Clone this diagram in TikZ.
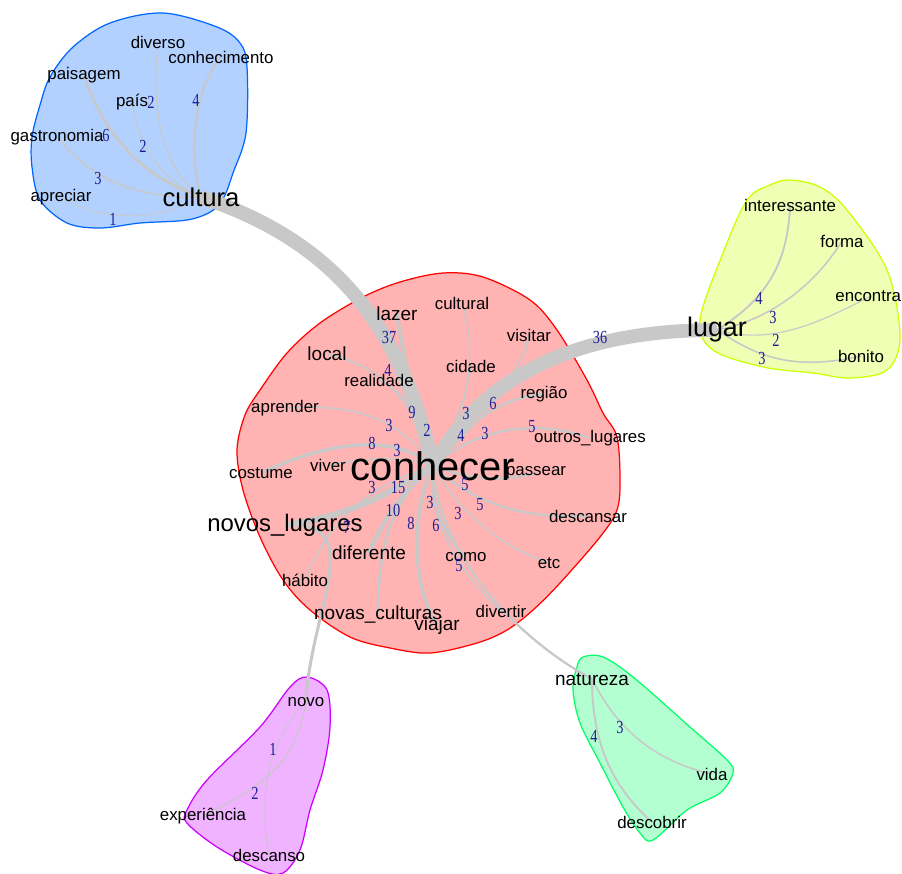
\documentclass[tikz,border=0pt]{standalone}
\usepackage{fontspec}
\setmainfont{Liberation Sans}
\newfontfamily\numfont{Liberation Serif}[FakeStretch=0.78]
\definecolor{linkgray}{RGB}{200,200,200}
\definecolor{numblue}{RGB}{30,30,150}
\definecolor{hred}{RGB}{255,0,0}
\definecolor{hredf}{RGB}{255,179,179}
\definecolor{hyel}{RGB}{204,255,0}
\definecolor{hyelf}{RGB}{240,255,179}
\definecolor{hgrn}{RGB}{0,255,102}
\definecolor{hgrnf}{RGB}{179,255,209}
\definecolor{hblu}{RGB}{0,102,255}
\definecolor{hbluf}{RGB}{179,209,255}
\definecolor{hmag}{RGB}{204,0,255}
\definecolor{hmagf}{RGB}{240,179,255}
\pgfdeclarelayer{back}
\pgfsetlayers{back,main}
\tikzset{
  word/.style={inner sep=0pt, font=\fontsize{9.6}{10}\selectfont},
  wordm/.style={inner sep=0pt, font=\fontsize{10.8}{11}\selectfont},
  wnum/.style={inner sep=0pt, text=numblue, font=\numfont\fontsize{10.5}{10}\selectfont},
  link/.style={draw=linkgray, line width=#1*0.21pt+0.25pt},
  hull/.style 2 args={draw=#1, fill=#2, line width=0.7pt}
}

\begin{document}
\begin{tikzpicture}[line cap=round,line join=round,x=0.02cm,y=-0.02cm]
\useasboundingbox (0,0) rectangle (902,873);
\clip (0,0) rectangle (902,873);
% centre
\node[word, font=\fontsize{22.7}{23}\selectfont] (conhecer) at (433,466) {conhecer};
\node[wordm] (lazer) at (397,314) {lazer};
\node[word] (cultural) at (462,303) {cultural};
\node[word] (visitar) at (529,335) {visitar};
\node[wordm] (local) at (327,354) {local};
\node[word] (cidade) at (471,366) {cidade};
\node[word] (realidade) at (379,380) {realidade};
\node[word] (regiao) at (544,394) {região};
\node[word] (aprender) at (285,408) {aprender};
\node[word] (outros) at (590,438) {outros\_lugares};
\node[word] (costume) at (261,473) {costume};
\node[word] (viver) at (328,465) {viver};
\node[word] (passear) at (536,473) {passear};
\node[word] (descansar) at (588,516) {descansar};
\node[word, font=\fontsize{13.6}{14}\selectfont] (novoslugares) at (285,525) {novos\_lugares};
\node[wordm] (diferente) at (369,553) {diferente};
\node[word] (como) at (466,557) {como};
\node[word] (etc) at (549,563) {etc};
\node[word] (habito) at (305,580) {hábito};
\node[wordm] (novasculturas) at (378,614) {novas\_culturas};
\node[wordm] (viajar) at (437,626) {viajar};
\node[word] (divertir) at (501,611) {divertir};
% cultura
\node[word, font=\fontsize{14.6}{15}\selectfont] (cultura) at (201,197) {cultura};
\node[word] (diverso) at (158,42) {diverso};
\node[word] (conhecimento) at (221,57) {conhecimento};
\node[word] (paisagem) at (84,75) {paisagem};
\node[word] (pais) at (132,102) {país};
\node[word] (gastronomia) at (57,137) {gastronomia};
\node[word] (apreciar) at (61,197) {apreciar};
% lugar
\node[word, font=\fontsize{15.3}{16}\selectfont] (lugar) at (717,330) {lugar};
\node[word] (interessante) at (790,205) {interessante};
\node[word] (forma) at (842,241) {forma};
\node[word] (encontrar) at (871,296) {encontrar};
\node[word] (bonito) at (861,356) {bonito};
% novo
\node[word] (novo) at (306,702) {novo};
\node[word] (experiencia) at (203,816) {experiência};
\node[word] (descanso) at (269,855) {descanso};
% natureza
\node[wordm] (natureza) at (592,679) {natureza};
\node[word] (vida) at (712,774) {vida};
\node[word] (descobrir) at (652,822) {descobrir};

\begin{pgfonlayer}{back}
\draw[hull={hblu}{hbluf}] plot[smooth cycle, tension=0.55] coordinates {(163,13) (217,27) (240,43) (247,67) (246,133) (233,173) (224,197) (212,211) (187,220) (140,223) (100,228) (67,223) (40,200) (32,167) (32,137) (40,105) (50,77) (73,47) (110,23)};
\draw[hull={hyel}{hyelf}] plot[smooth cycle, tension=0.55] coordinates {(790,180) (820,187) (847,210) (887,270) (900,337) (887,370) (850,378) (813,373) (763,367) (713,350) (700,320) (723,253) (747,200) (770,185)};
\draw[hull={hred}{hredf}] plot[smooth cycle, tension=0.55] coordinates {(443,273) (483,277) (530,300) (557,330) (587,380) (603,413) (617,437) (620,480) (617,510) (600,537) (560,583) (533,610) (507,630) (477,643) (430,653) (390,648) (350,637) (310,610) (283,580) (260,537) (243,490) (237,450) (245,415) (260,390) (287,353) (320,323) (363,297) (400,282)};
\draw[hull={hmag}{hmagf}] plot[smooth cycle, tension=0.55] coordinates {(307,677) (327,690) (330,727) (323,770) (310,810) (300,850) (283,873) (260,870) (217,847) (187,823) (187,810) (207,780) (260,727) (290,687)};
\draw[hull={hgrn}{hgrnf}] plot[smooth cycle, tension=0.55] coordinates {(583,657) (603,657) (633,677) (690,727) (727,760) (733,773) (720,793) (687,810) (653,840) (640,833) (623,807) (600,763) (580,723) (573,690) (577,667)};
% cultura
\draw[link=2] (diverso.center) .. controls (150,120) and (165,170) .. (cultura.center);
\draw[link=4] (conhecimento.center) .. controls (190,95) and (190,160) .. (cultura.center);
\draw[link=6] (paisagem.center) .. controls (100,125) and (135,175) .. (cultura.center);
\draw[link=2] (pais.center) .. controls (138,145) and (160,180) .. (cultura.center);
\draw[link=3] (gastronomia.center) .. controls (85,170) and (120,198) .. (cultura.center);
\draw[link=1] (apreciar.center) .. controls (100,222) and (160,222) .. (cultura.center);
% lugar
\draw[link=4] (interessante.center) .. controls (788,265) and (765,300) .. (lugar.center);
\draw[link=3] (forma.center) .. controls (815,285) and (770,320) .. (lugar.center);
\draw[link=2] (encontrar.center) .. controls (815,325) and (770,345) .. (lugar.center);
\draw[link=3] (bonito.center) .. controls (790,372) and (755,355) .. (lugar.center);
% conhecer
\draw[link=37] (cultura.center) .. controls (330,240) and (400,320) .. (conhecer.center);
\draw[link=36] (lugar.center) .. controls (570,330) and (480,380) .. (conhecer.center);
\draw[link=4] (local.center) .. controls (380,365) and (415,400) .. (conhecer.center);
\draw[link=9] (lazer.center) .. controls (405,370) and (420,420) .. (conhecer.center);
\draw[link=2] (realidade.center) .. controls (410,395) and (425,425) .. (conhecer.center);
\draw[link=3] (cultural.center) .. controls (480,360) and (465,420) .. (conhecer.center);
\draw[link=2] (cidade.center) .. controls (465,410) and (445,440) .. (conhecer.center);
\draw[link=4] (visitar.center) .. controls (522,375) and (480,420) .. (conhecer.center);
\draw[link=6] (regiao.center) .. controls (500,398) and (470,420) .. (conhecer.center);
\draw[link=5] (outros.center) .. controls (540,420) and (480,425) .. (conhecer.center);
\draw[link=3] (aprender.center) .. controls (360,403) and (400,420) .. (conhecer.center);
\draw[link=8] (costume.center) .. controls (320,445) and (390,430) .. (conhecer.center);
\draw[link=3] (viver.center) .. controls (370,458) and (400,455) .. (conhecer.center);
\draw[link=5] (passear.center) .. controls (490,485) and (460,475) .. (conhecer.center);
\draw[link=5] (descansar.center) .. controls (510,520) and (465,495) .. (conhecer.center);
\draw[link=3] (etc.center) .. controls (495,545) and (455,505) .. (conhecer.center);
\draw[link=6] (como.center) .. controls (440,530) and (430,500) .. (conhecer.center);
\draw[link=3] (divertir.center) .. controls (455,570) and (425,510) .. (conhecer.center);
\draw[link=5] (natureza.center) .. controls (520,640) and (440,560) .. (conhecer.center);
\draw[link=8] (viajar.center) .. controls (410,580) and (412,510) .. (conhecer.center);
\draw[link=10] (diferente.center) .. controls (385,515) and (405,490) .. (conhecer.center);
\draw[link=6] (novasculturas.center) .. controls (378,550) and (390,500) .. (conhecer.center);
\draw[link=15] (novoslugares.center) .. controls (360,515) and (400,485) .. (conhecer.center);
\draw[link=3] (habito.center) .. controls (325,530) and (360,487) .. (conhecer.center);
\draw[link=7] (novoslugares.center) .. controls (370,520) and (310,610) .. (novo.center);
% novo, natureza
\draw[link=2] (novo.center) .. controls (295,765) and (265,785) .. (experiencia.center);
\draw[link=1] (novo.center) .. controls (262,745) and (260,810) .. (descanso.center);
\draw[link=4] (natureza.center) .. controls (592,740) and (610,785) .. (descobrir.center);
\draw[link=3] (natureza.center) .. controls (615,725) and (650,760) .. (vida.center);
\end{pgfonlayer}

% weights
\foreach \v/\p [count=\i] in {2/{151,102},4/{196,100},6/{106,135},2/{143,146},3/{98,178},1/{113,219},
  4/{759,298},3/{773,317},2/{776,340},3/{762,358},
  37/{389,337},36/{600,337},4/{388,370},9/{412,412},2/{427,430},3/{389,425},8/{372,443},3/{397,450},
  3/{466,413},4/{461,435},6/{493,403},3/{485,433},5/{532,427},5/{465,485},5/{480,505},3/{458,513},
  3/{430,502},6/{436,525},8/{411,523},10/{393,510},15/{398,487},3/{372,487},7/{347,527},5/{459,566},
  1/{273,749},2/{255,793},4/{594,736},3/{620,727}}
  \node[wnum] (w\i) at (\p) {\v};
\end{tikzpicture}
\end{document}
